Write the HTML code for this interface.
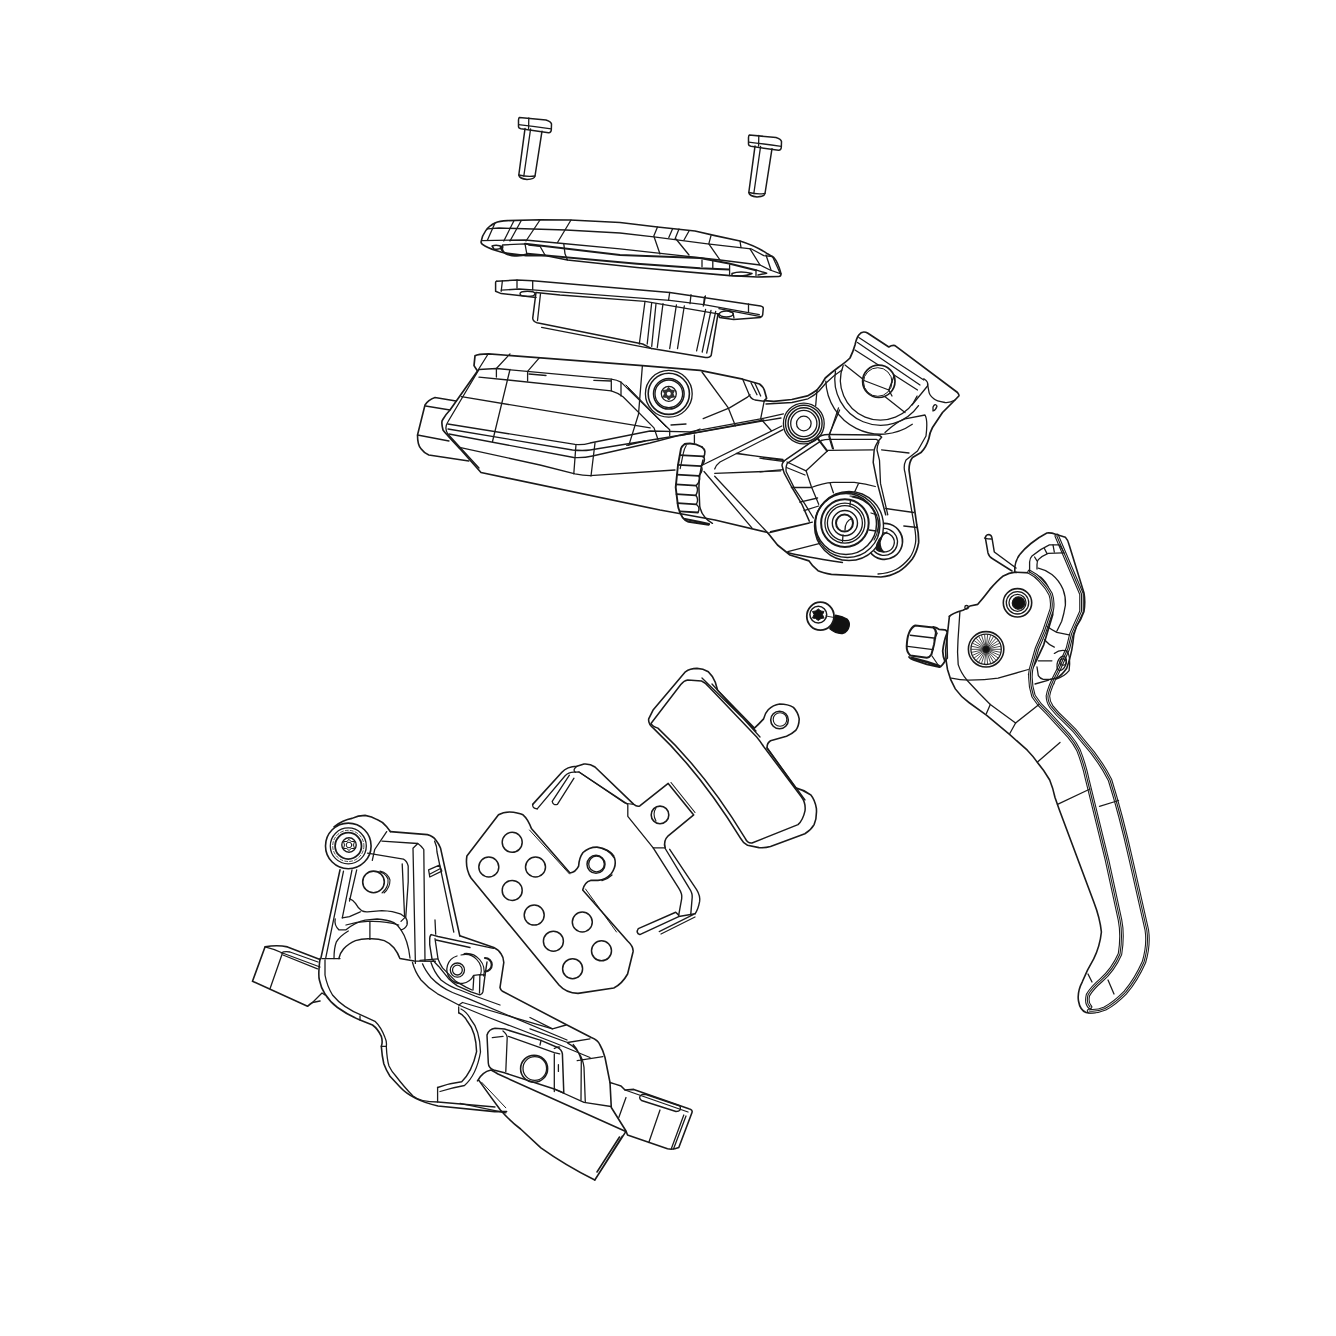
<!DOCTYPE html>
<html><head><meta charset="utf-8"><style>
html,body{margin:0;padding:0;background:#fff;}
svg{display:block;}
</style></head><body>
<svg width="1336" height="1336" viewBox="0 0 1336 1336">
<rect width="1336" height="1336" fill="#fff"/>
<g fill="none" stroke="#1a1a1a" stroke-width="1.3" stroke-linejoin="round" stroke-linecap="round">
<g id="screw">
<path d="M519.4,117.5 L546,120 Q551,121.5 551.5,124 L551.3,130 Q551,133 548.5,132.8 L521,128.8 Q518.5,128.3 518.5,126.5 L518.5,120 Q518.7,117.8 519.4,117.5 Z" stroke-width="1.5"/>
<path d="M518.6,124.6 Q535,126.5 551.2,128.8"/>
<path d="M528.8,117.8 L528.6,128.5"/>
<path d="M525,128.6 L518.8,175 Q519.5,178.8 527,179.4 Q534.5,179.2 535,176 L542,131.2" stroke-width="1.5"/>
<path d="M530.6,128.9 L523.8,176.2"/>
<path d="M518.9,175 Q527,177 535,176"/>
</g>
<use href="#screw" transform="translate(230,17.5)"/>

<!-- cover -->
<path d="M481,242 C482,234 488,226 495,223 C499,221 503,220.7 507.5,220.6 L540,219.8 L570,220 L620,222.5 L657.5,227 L695,231 L715,235.6 L740,241 Q756,246 767.5,253.8 L773.8,257.5 Q778,262 781,273.8 Q781,276.5 778.8,276.5 L757.5,277 L730,275.6 L637,267.5 L567.5,260 L545,255.5 L526,255.6 L502.5,252.5 Q490,249 485,246 Q481,244 481,242 Z" stroke-width="1.6"/>
<path d="M482,240.6 L525,240 L557.5,243 L620,248.8 L720,260 L760,265 L770,270 L781,273.8"/>
<path d="M487.5,228.8 L499,228 L566,230 L620,233 L653.8,236.9 L707.5,243.8 L751,248.8 L763.8,255.6 L772.5,256.5"/>
<path d="M495,223 L487.5,240 M513.8,221 L503.8,241 M521,221 L510,241 M540,220 L526,241 M571,220 L557.5,242.5"/>
<path d="M657.5,227 L653.8,236 L660,254 M672.5,229 L668.8,237.5 M679,229 L675,239 M689,231 L684,240 M676,239 L689,255 M711,235.6 L708.8,243.8 L720,260 M740,241 L741,247.5 M750,248.8 L760,265 M766,255 L771,270 M772.5,256.5 L780,273"/>
<path d="M525,243.8 L620,255 L700,258.1 L729,263.5 L756,270.2" stroke-width="2"/>
<path d="M527.5,253.8 L637,263.8 L700,268.2 L729,269.5" stroke-width="1.9"/>
<path d="M729.6,264.8 L729.6,275.6 M756,270.2 L756,275.6 M702,260.1 L702,266.8 M712.8,261.5 L712.8,268.2"/>
<path d="M732,273.5 Q740,270.5 752,273.5 Q745,277 732,275.5 Z" stroke-width="1.5"/>
<path d="M756.6,270.2 L766.7,273.2 L758,275" stroke-width="1.4"/>
<path d="M492,246 Q497,244 503,247 Q500,250 494,249 Z" stroke-width="1.4"/>
<path d="M502.5,245 L525,243.8 L527,255 M502.5,245 Q502,250 503.8,252.5 Q514,256 527,255" stroke-width="1.3"/>
<path d="M528.8,245 L540,246.3 L545,255 M563.8,243.8 L565,253.8 L567.5,260"/>
<path d="M500.5,247 Q502,254 512,255.5 Q521,256.5 527,254" stroke-width="1.8"/>

<!-- bladder -->
<path d="M496.7,281.2 L517,280 L532.7,280.8 L669.7,292.5 L760.6,305.9 Q763,306.5 763.3,308 L762.7,314.7 Q762,317 760.6,317.4 L733.7,319.4 L719.5,317.4 L718,313.8" stroke-width="1.5"/>
<path d="M496.7,281.2 Q495.6,281.8 495.6,282.4 L495.6,291.3 L501.2,293.6 L521.4,295.8 L536,297.5" stroke-width="1.5"/>
<path d="M501.2,290.2 L519.2,289 L532.7,289.8 L669.7,300.3 L704,304.6 L759.3,314.7"/>
<path d="M718.9,308.6 L760.6,316.7"/>
<path d="M517,280 L517,288 M532.7,280.8 L532.7,289.8 M502.4,280.8 L501.2,291.3 M669.7,292.5 L668.5,300.3 M691,294.7 L690,303.7 M704.5,297 L703.3,306 M748.5,303.9 L748.5,312 M705.4,295.8 L704,304.6"/>
<path d="M536,292.5 L532.7,318.3 Q533,321.5 537,322.8 L642.7,344 L651.7,348.6 L705.6,357.6 Q710,357.5 711.2,355.3 L718,313.8" stroke-width="1.5"/>
<path d="M540.5,293.6 L537.5,320.5 M541.6,327.3 L651.7,348.6"/>
<path d="M536,292.5 L560,295 L645,301.4 L718,313.8"/>
<path d="M645,301.4 L639.3,344 M651.7,302.6 L647.2,344 M656,303.7 L651.7,346.4 M663,303.7 L657.3,347.5 M676.4,304.8 L669.7,348.6 M684.3,306 L677.5,348.6 M705.6,309.3 L696.6,350.8 M711,310.4 L702.2,352 M715.7,311.5 L706.7,353"/>
<ellipse cx="527.5" cy="293.8" rx="7.5" ry="2.6" stroke-width="1.4"/>
<ellipse cx="726.3" cy="314" rx="7" ry="3" stroke-width="1.4"/>
<path d="M729,311.5 L733,313 L734,318"/>

<!-- master cylinder body -->
<path d="M474,365.6 L475,355.8 Q478,354 488.7,353.9 L642.4,365.6 L700,370.4 L742.7,379.2 L759.5,384 Q763.5,387 764.3,390 L766.6,398.3 L764.3,400.7 L773.8,401.3 L791.8,399.5 L807.4,395.9 Q813,393 817,390 L821.7,384 L825.3,378 Q832,372 838.5,367.2 Q846,362 850,358 Q853,352 855,345 Q856.5,338 858.8,335 Q861,332 863.8,332 Q866,332 867.5,333 L888.8,347 Q892,345 895,345.6 L957.5,392.5 Q959.5,395 958.8,396 L955,400 L942.5,412.5 L932.5,427.5 Q929.5,433 928.8,438.8 Q926,448 921,452.5 L912.5,457.5 Q909,462 909,470 L916.8,525 Q919,535 918.6,542.9 Q917,552 912.3,559 Q906,567 898.8,571.6 Q890,576.5 880.9,577 L831.4,574.3 Q823,573 818,570.7 Q812,566 809,560.9 L790,555 L777.5,545 L767.5,532.5 L715,520 L660,510 L481,472.5 L460,448.8 Q446,434 443,430 Q441,422 442.5,420 Q446,414 450,410 L477.5,371 Z" stroke-width="1.7"/>
<!-- plug -->
<path d="M456,401 L435,397.5 Q428,400 425,405 L417.5,435 Q417.5,445 421,448.8 Q424,453 428.8,455 L468.8,461" stroke-width="1.6"/>
<path d="M425.6,406 L450,410 M417.5,435 L449,441"/>
<!-- left front double edge -->
<path d="M487.5,355 L477.5,371 M479,369.5 L447.8,422 Q444,428 447.8,434 L479,468"/>
<!-- recess -->
<path d="M479,369.5 L496.4,368.5 L611.3,379.2 Q617,380 621,382.1 L669.7,429.8 L669.7,435.6"/>
<path d="M479,377.2 L508,380 L611.3,390.9 Q618,393 623,396.7 L654,427.9 L658,439.5"/>
<path d="M626,385 L664,424 M628,388 L666,427" stroke-width="1"/>
<path d="M510,353.9 L496.4,368.5 L496.4,377 M539.3,357.8 L527.6,371.4 L527.6,381.1 M510,369.5 L492.5,441.5"/>
<path d="M593.8,380.3 L611.3,381 M611.3,379.2 L611.3,390.9 M621,382.1 L621,396 M529,374 L546,375.5 M671,425 L686,424"/>
<path d="M461.4,396.7 L650.2,427.9"/>
<path d="M642.4,365.6 L638.5,414.2 L628.8,445.4"/>
<!-- lower face lines -->
<path d="M447.8,424 L575,444.4 Q583,445 590,443 L650,431 L690,431.9 L761.9,418.7 L783.4,413.9"/>
<path d="M448,429 L572.5,450 Q583,451 590,450 L700,432 L761.9,421.1 L781,418"/>
<path d="M449,434 L573.8,457.5 Q584,458 592.5,456 L650,443 L693.6,431.7 L700,429"/>
<path d="M459.5,447.3 L540,465 L575,473.8 Q583,475.5 590,475.6 L675,470"/>
<path d="M576,444.4 L573.8,473.8 M595,443 L591,476 M626.8,445.4 L645,441"/>
<!-- knurled wheel -->
<path d="M694.4,435 L694.4,443.2"/>
<path d="M701.9,447 Q696,443.5 690,443.5 Q686,443.5 684.7,444 Q682,446 681,448.5 L678,465 L675.7,487.4 L678,506.1 Q679.5,513 682.5,517.3 Q685,520.5 688.4,521.8 L708.7,524.8" stroke-width="1.9"/>
<path d="M686.2,445.5 Q684,449 683.2,453.7 L680.2,468.7" stroke-width="1.2"/>
<path d="M701.9,447 Q704.5,449 704.9,451.5 Q705,455 703.4,457.5" stroke-width="1.6"/>
<path d="M679.8,455.2 L703.5,456.4 M678.0,464.9 L701.1,466.1 M677.0,474.7 L698.6,475.9 M676.0,484.4 L696.2,485.6 M676.5,494.1 L695.8,495.3 M677.6,503.1 L696.3,504.3 M680.1,511.3 L697.9,512.5 " stroke-width="1.8"/>
<path d="M703.5,456.4 Q706.3,460.6 701.1,466.1 M701.1,466.1 Q703.9,470.4 698.6,475.9 M698.6,475.9 Q701.4,480.1 696.2,485.6 M696.2,485.6 Q699.0,489.9 695.8,495.3 M695.8,495.3 Q699.1,499.2 696.3,504.3 M696.3,504.3 Q700.7,507.8 697.9,512.5 " stroke-width="1.4"/>
<path d="M703,460 Q699,475 698.9,487.4 L699.7,506.1 Q701,513 704.9,517.3 Q708,521 712.4,523.3" stroke-width="1.5"/>
<path d="M685,519 L700,522 L709,524" stroke-width="2.2"/>
<!-- tab + valley -->
<path d="M742.7,379.2 L748.7,393.5 Q750,398.5 755,400 L764.3,401.3 M751,382.8 L757,394.7 M754.7,382.8 L760.7,396"/>
<path d="M702,372 L728.3,407.9 L735.5,425.9 M703.2,418.7 L729.5,407.9 L747.5,397.1 L750,394.7"/>
<path d="M764.3,400.7 L760.7,418.7 L771.4,430.7"/>
<path d="M766,404 L792,402.5 L808,398.8 Q815,395 819,391 L826,383 Q834,375 842,370"/>
<path d="M817,390 L815.7,405.5 M838.5,407.9 L828.9,436.6 L832.5,448.6"/>
<!-- long diagonal double -->
<path d="M701.6,465.5 L781.8,426 M714.7,469 Q716,465 720,462 L783,429.6"/>
<path d="M680,435.6 L763.8,420 M714.7,473.3 L780.6,470.9 M737.9,453.4 L784.6,460.6 M736.3,453.5 L783,459.5"/>
<path d="M704,471.5 L751.9,527.8 M714.7,476.3 L768.6,533.8"/>
<path d="M769.8,532.6 L809.3,523 M787.8,551.7 L820,543.4 M770.5,531.6 L812.4,522.1"/>
<path d="M787.5,552.5 Q800,556 842.5,562.5"/>
<!-- frame around lower bushing -->
<path d="M820.8,435.7 Q825,434.5 829.2,434.6 L877.4,435.1 Q881,436 881.6,437.2 Q876,443 874.2,449.8 L873.2,462.4 L877.4,483.4 L885.7,514.8" stroke-width="1.5"/>
<path d="M821.8,440.4 Q825,439.3 829.2,439.3 L876.3,439.3 Q879,440.5 879,442 Q877,446 877,450 L879.5,460.3 L880.5,483.4 L887.8,514.8"/>
<path d="M820.8,435.7 L786.2,459.3 Q782,462 782,465.5 L784.1,472.9 L791.4,486.5 L801.9,504.3 L809.3,521.1" stroke-width="1.5"/>
<path d="M821.8,440.4 L787.2,463.4 Q785.5,467 786.2,471.8 L794.6,488.6 L805.1,504.3 L813.4,518"/>
<path d="M806.1,470.8 L828.1,450.3 L873.2,449.8 M806.1,470.8 L811.3,486.5 L818.7,504.3"/>
<path d="M787,462 L806.1,470.8 M786.5,467.5 L805,475"/>
<path d="M817.6,438.3 L827.1,450.9" stroke-width="2"/>
<path d="M829.2,434.6 L833.4,448.8 M829.2,434.6 L839.6,410"/>
<path d="M811.3,487.5 Q822,483 833.4,482.3 L854.3,482.3 Q866,483.5 875.3,486.5 M830.2,483.4 L833.4,492.8 M858.5,483.4 L854.3,492.8"/>
<path d="M760,458.2 L783,461.3 M760,471.8 L783,469.7 M791.4,487.5 L811.3,487.5 M799.8,502.2 L817.6,498 M804,510.6 L818.7,506"/>
<path d="M881.6,449.8 L909,453 M885.7,508.5 L913.8,512.5 M903.8,526 L917.5,527.5"/>
<!-- right outline inner line -->
<path d="M885,432.5 Q896,422 905,418.8 L925,415 Q928,420 926,436 L917.5,451 L906,460 Q903,466 905,472.5 L914,524 Q916.5,537 915.5,543 Q914,552 909.5,558 Q903,566 896,569.5 Q888,573.5 878,574"/>
<!-- horn -->
<path d="M858.8,337.5 L923.8,380 M857.5,342.5 L920,385 M855,350 L917.5,390 M845,365 L905,412.5"/>
<path d="M923.8,378.8 Q929,382 927.5,386 L921,394 L912,405"/>
<!-- tab lower -->
<path d="M955,400 Q950,403 945,402.5 Q936,401 933.8,398.8 Q929,395 928.8,391 L927.5,383.8"/>
<path d="M933,407 Q935,403 937,406 Q936,410 933,411 Z"/>
<!-- arcs around pin -->
<path d="M843.2,365.5 A40,40 0 0 0 917.1,396.1"/>
<path d="M835.5,371.2 A46,46 0 0 0 918.5,405.6"/>
<path d="M825.8,381.1 A55,55 0 0 0 912.3,424.3"/>
<!-- pin -->
<circle cx="878.8" cy="381.3" r="16.2" stroke-width="1.7" fill="#fff"/>
<circle cx="877.8" cy="382" r="14.3" stroke-width="1"/>
<path d="M864,380.5 L888.8,390 L894,376 M888.8,390 L892,396"/>
<!-- screw on body -->
<circle cx="668.8" cy="393.8" r="23.4"/>
<circle cx="668.8" cy="393.8" r="20.6" stroke-width="1.6"/>
<circle cx="668.8" cy="393.8" r="15.3" stroke-width="1.5"/>
<circle cx="668.8" cy="393.8" r="13.8"/>
<circle cx="668.8" cy="393.8" r="7.5"/>
<path d="M668.8,387.5 L671,390 L674.5,390.5 L673,393.8 L674.5,397 L671,397.5 L668.8,400 L666.5,397.5 L663,397 L664.5,393.8 L663,390.5 L666.5,390 Z" fill="#333" stroke-width="0.8"/><circle cx="668.8" cy="393.8" r="2" fill="#fff" stroke="none"/>
<!-- small bushing mid -->
<circle cx="803.8" cy="423.5" r="20.4"/>
<circle cx="803.8" cy="423.5" r="18.3" stroke-width="1.4"/>
<circle cx="803.8" cy="423.5" r="15.7" stroke-width="1.5"/>
<circle cx="803.8" cy="423.5" r="13.1"/>
<circle cx="803.8" cy="423.5" r="7.3"/>
<!-- small right bushing -->
<path d="M877,525 A18,18 0 1 1 870,552" stroke-width="1.7"/>
<path d="M880,529 A13.5,13.5 0 1 1 874,551" stroke-width="1.3"/>
<path d="M883,533 A9.5,9.5 0 1 1 878,549" />
<!-- big bushing -->
<circle cx="849" cy="526" r="34.5" stroke-width="1.4" fill="#fff"/>
<circle cx="847.5" cy="525" r="32.5"/>
<circle cx="846" cy="524" r="30.5" stroke-width="1.5"/>
<path d="M850,496 A29,29 0 0 1 874,540 M852,497 A31,31 0 0 1 878,536" stroke-width="1.1"/>
<circle cx="844.9" cy="523.1" r="23.8" stroke-width="2"/>
<circle cx="844.9" cy="523.1" r="20" stroke-width="1.3"/>
<circle cx="844.9" cy="523.1" r="17.5" stroke-width="1.3"/>
<circle cx="844.9" cy="523.1" r="12.6" stroke-width="1.4"/>
<circle cx="844.5" cy="523.1" r="8.5" stroke-width="2"/>
<path d="M845,530 Q845,521 852,518.5" />
<path d="M850,505.5 L850.5,500 M843,535 L842.5,541.5 M871,513 L877,515 M869,530 L876,531"/>
<path d="M887,532 Q881,535 880,542 Q880,549 884,552 Q878,552 876,549 Q877,538 887,532 Z" fill="#1a1a1a"/>

<!-- lever -->
<!-- plate + blade left outline -->
<path d="M949.4,616.3 Q952,613.5 962.9,610.3 Q968,608 970,606 L977.8,604.3 Q984,597 989.8,589.4 Q997,581 1003.3,575.9 Q1009,573 1015.3,572.2 L1030.2,572.9 Q1036,574 1040.7,577.4 Q1046,582 1048.2,587.9 Q1052,594 1052.7,601.3 L1052.7,614.8 L1043.7,644.8 L1034.7,664.2 L1028.7,674.7" stroke-width="1.7"/>
<path d="M949.4,616.3 L947.9,629.8 L945.6,650 Q945.5,660 947.5,669.5 Q950,680 955.3,688.9 Q961,697 968.9,702.5 L986.4,715.2 L1009.8,734.7 L1027.3,750.2 Q1033,756 1037,761.9 Q1044,770 1049.7,780 Q1053,788 1055,797.5 L1059.4,810 L1093.7,901.7 Q1100,918 1101.4,932 Q1100,946 1093.7,958.9 Q1087,970 1082.3,981.8 Q1077,992 1078.5,1001 Q1080,1010 1086,1012.5 Q1093,1014 1100,1011" stroke-width="1.6"/>
<path d="M1054.2,679.2 L1053.7,684"/>
<!-- inner left line -->
<path d="M959.9,611.8 L958,640 Q957,652 958.2,664.6 Q961,673 967,680.2 L978.7,692.8 L990.3,704.5 L1015.6,723"/>
<!-- plate bottom curve -->
<path d="M951.4,678.2 Q960,680 968.9,680.2 Q985,680 998.1,678.2 L1028.3,669.5"/>
<!-- right inner double line of plate -->
<path d="M1029.6,572 Q1036,575 1040.7,580.6 Q1047,587 1050.6,594.1 Q1053,601 1051.9,609 L1044.4,631.2 L1037,648.5 L1031,669.4 Q1029,682 1033.5,696 Q1039,705 1047,712 L1069.4,736.4 Q1075,743 1078.4,750 Q1084,764 1087.4,780 L1107,860 L1120,920 Q1123,935 1120,954 Q1113,970 1101.2,980.2 Q1092,988 1088,995 Q1086,1003 1090,1007" stroke-width="4.6"/>
<path d="M1029.6,572 Q1036,575 1040.7,580.6 Q1047,587 1050.6,594.1 Q1053,601 1051.9,609 L1044.4,631.2 L1037,648.5 L1031,669.4 Q1029,682 1033.5,696 Q1039,705 1047,712 L1069.4,736.4 Q1075,743 1078.4,750 Q1084,764 1087.4,780 L1107,860 L1120,920 Q1123,935 1120,954 Q1113,970 1101.2,980.2 Q1092,988 1088,995 Q1086,1003 1090,1007" stroke="#fff" stroke-width="2.4"/>
<path d="M1029.6,572 Q1036,575 1040.7,580.6 Q1047,587 1050.6,594.1 Q1053,601 1051.9,609 L1044.4,631.2 L1037,648.5 L1031,669.4 Q1029,682 1033.5,696 Q1039,705 1047,712 L1069.4,736.4 Q1075,743 1078.4,750 Q1084,764 1087.4,780 L1107,860 L1120,920 Q1123,935 1120,954 Q1113,970 1101.2,980.2 Q1092,988 1088,995 Q1086,1003 1090,1007" stroke-width="1.1"/>
<path d="M1056.8,536 L1081.5,594 L1081.5,611.4 L1071.6,633.6 L1067.9,648.5 L1058,670.7 Q1049,688 1047.9,696 Q1048,702 1051.4,706.7 Q1057,714 1065,721 Q1075,730 1083,741 Q1100,760 1110,780 Q1121,815 1131,860 L1146.8,930 Q1149,945 1144,962 Q1136,980 1125.5,992.3 Q1115,1003 1105,1008.5 Q1097,1012 1089,1011" stroke-width="4.6"/>
<path d="M1056.8,536 L1081.5,594 L1081.5,611.4 L1071.6,633.6 L1067.9,648.5 L1058,670.7 Q1049,688 1047.9,696 Q1048,702 1051.4,706.7 Q1057,714 1065,721 Q1075,730 1083,741 Q1100,760 1110,780 Q1121,815 1131,860 L1146.8,930 Q1149,945 1144,962 Q1136,980 1125.5,992.3 Q1115,1003 1105,1008.5 Q1097,1012 1089,1011" stroke="#fff" stroke-width="2.4"/>
<path d="M1056.8,536 L1081.5,594 L1081.5,611.4 L1071.6,633.6 L1067.9,648.5 L1058,670.7 Q1049,688 1047.9,696 Q1048,702 1051.4,706.7 Q1057,714 1065,721 Q1075,730 1083,741 Q1100,760 1110,780 Q1121,815 1131,860 L1146.8,930 Q1149,945 1144,962 Q1136,980 1125.5,992.3 Q1115,1003 1105,1008.5 Q1097,1012 1089,1011" stroke-width="1.1"/>
<!-- cross lines -->
<path d="M990.3,704.5 L986.4,713.5 M1015.6,723 L1009.8,733.5 M1015.6,723 L1039,704.5 M1037.5,762 L1060,742.4 M1057.5,804.3 L1090,789 M1099.5,806.3 L1118.5,800.5 M1035,684 L1048.7,680.2"/>
<path d="M1088,974 L1092,982 M1108,980 L1114,994"/>
<!-- hook -->
<path d="M1014.8,572 L1014.8,567 Q1016,559 1019.8,554.6 Q1024,549 1030.9,543.5 Q1039,537 1046.9,533 Q1051,532.5 1055.6,534.3 L1065.4,537.3 Q1068,540 1069.1,544.8 L1084,592.9 Q1085.5,602 1084,611.4 Q1081,620 1076.5,626.2 Q1073,635 1072.8,643.5 Q1072,650 1070.4,655.9 Q1069,662 1066.7,668.2 Q1062,675 1056.8,678.1 L1050.6,679.3" stroke-width="1.6"/>
<path d="M1029.6,572 L1029.6,562 Q1030,558 1032,555.9 Q1040,549 1049.4,544.8 L1059.3,544.8 Q1062,548 1064.2,553.4"/>
<path d="M1037,569 L1037,564.5 Q1037,561 1038.3,559.6 Q1042,556 1048.1,553.4 L1063,552.8"/>
<path d="M1034.6,557 L1037,560.8 M1044.4,548.5 L1046.9,553.4 M1053,544.8 L1054.3,552"/>
<path d="M1038.3,568.2 Q1046,570 1051.9,574.4 Q1059,580 1063,589.2 Q1066,597 1065.4,605.2 Q1064,614 1061.7,621.3 L1056.8,631.2"/>
<path d="M1038.3,660.8 L1051.9,660.8 M1037,667 L1038.3,675.6 Q1040,678.5 1043.2,679.3 L1050.6,679.3"/>
<path d="M1044.4,639.8 Q1049,645 1054.3,647.2 M1046.9,626.2 Q1052,630 1056.8,632.4 L1069.1,634.9"/>
<ellipse cx="1061.7" cy="663.3" rx="4.3" ry="7.4" transform="rotate(20 1061.7 663.3)"/>
<circle cx="1063" cy="662" r="3.2"/>
<path d="M1054.3,653.4 Q1060,649 1066.7,650.9 Q1071,655 1069.1,670.7 Q1064,677 1056,679"/>
<!-- pivot hole -->
<circle cx="1017.5" cy="602.8" r="14.2" stroke-width="1.6"/>
<circle cx="1017.5" cy="602.8" r="11.2"/>
<circle cx="1017.5" cy="602.8" r="8.5"/>
<circle cx="1018.5" cy="603" r="6.2" fill="#111"/>
<!-- starburst -->
<circle cx="986.1" cy="649.3" r="17.7" stroke-width="1.6"/>
<circle cx="986.1" cy="649.3" r="15.2"/>
<path stroke-width="0.8" d="M988.1,649.3 L1000.6,649.3 M988.1,649.7 L1000.3,652.3 M987.9,650.1 L999.3,655.2 M987.7,650.5 L997.8,657.8 M987.4,650.8 L995.8,660.1 M987.1,651.0 L993.4,661.9 M986.7,651.2 L990.6,663.1 M986.3,651.3 L987.6,663.7 M985.9,651.3 L984.6,663.7 M985.5,651.2 L981.6,663.1 M985.1,651.0 L978.9,661.9 M984.8,650.8 L976.4,660.1 M984.5,650.5 L974.4,657.8 M984.3,650.1 L972.9,655.2 M984.1,649.7 L971.9,652.3 M984.1,649.3 L971.6,649.3 M984.1,648.9 L971.9,646.3 M984.3,648.5 L972.9,643.4 M984.5,648.1 L974.4,640.8 M984.8,647.8 L976.4,638.5 M985.1,647.6 L978.9,636.7 M985.5,647.4 L981.6,635.5 M985.9,647.3 L984.6,634.9 M986.3,647.3 L987.6,634.9 M986.7,647.4 L990.6,635.5 M987.1,647.6 L993.4,636.7 M987.4,647.8 L995.8,638.5 M987.7,648.1 L997.8,640.8 M987.9,648.5 L999.3,643.4 M988.1,648.9 L1000.3,646.3"/><circle cx="986.1" cy="649.3" r="3" fill="#111"/>
<!-- knob -->
<path d="M915.3,625.5 L933.2,627.5 Q936.5,630 935.9,633 L934.1,644.2 L931.4,654.5 Q929.5,657.5 926.9,657.7 L910.3,655.4 Q906.5,652 906.7,646.4 Q907,638 909,633 Q911.5,627 915.3,625.5 Z" stroke-width="2"/>
<path d="M910.3,635.2 L935.5,638.3 M907.6,646.4 L933.2,649.6" stroke-width="1.4"/>
<path d="M933.2,627 Q937,627.5 939,629.4 L944.9,629.8 Q947.5,631 947.1,633 Q944,640 942.7,651 Q943,657 944.9,661.2 Q942,666 939.5,667.1 L926.9,664.4 L913.5,659.9 Q910,658.5 909,657" stroke-width="1.8"/>
<path d="M937.3,633 L934,640 M932,656 L939.5,667" stroke-width="1.2"/>
<path d="M912,658 L927,662 L939,666" stroke-width="2.4"/>
<path d="M944.9,661.2 L947.5,658 L947,636"/>
<!-- spring wire -->
<path d="M985.3,537.5 Q986,534.5 989,534.5 Q991.5,535 992,538 L994.3,552 L1016,568 M985.3,537.5 L988,553 Q989,557 993,559 L1012,571" stroke-width="1.5"/>
<path d="M984.5,538 Q988,539 991.5,539"/>
<circle cx="966.6" cy="607.3" r="1.8"/>

<!-- small screw -->
<path d="M835.6,615.1 Q842,616 847,619 Q850,622 849.2,626 Q848,632 842.4,633.5 Q836,634 829.8,628.8 Z" fill="#111" stroke="#111"/>
<ellipse cx="820.4" cy="616.2" rx="13.6" ry="14" fill="#fff" stroke-width="1.8"/>
<circle cx="818.3" cy="614.6" r="8.4" stroke-width="1.5"/>
<path d="M818.3,609 L821,611 L824,611.5 L822.5,614.6 L824,618 L821,618.5 L818.3,620.5 L815.5,618.5 L812.5,618 L814,614.6 L812.5,611.5 L815.5,611 Z" fill="#111" stroke-width="1"/>
<path d="M826,616 L834,617.5" stroke-width="0.9"/>

<!-- pad with friction (right) -->
<path d="M648.7,718.9 L653.3,709.7 L685.4,671.8 Q690,668.5 697,668.4 Q703,668.5 708.4,671.8 Q713,676 715.3,682.2 L717.6,690.2 L754.4,728.1 Q759,724 763.6,718.9 Q765,713 768.2,709.7 Q773,705 779.7,704 Q788,704 793.4,707.4 Q798,712 799.2,718.9 Q799,726 795.7,730.4 Q792,734 786.5,736.2 L770.5,740.8 Q767,743 767,747.7 L795.7,787.9 Q804,790 810.7,794.8 Q815,800 816.4,808.5 Q817,818 814.1,824.6 Q811,830 804.9,833.8 L770.5,846.5 Q765,848 759,847.6 L747.5,845.3 Q743,843 740.6,838.4 Q700,772 653.3,728.1 Q648,724 648.7,718.9 Z" stroke-width="1.6"/>
<path d="M651,723.5 L680.8,684.5 Q684,680.5 687.7,679.9 L701.5,681 Q706,683 709,687 L756.7,737 Q760,741 763.6,746.5 L801.5,797 Q806,803 805,810.8 Q803,820 798,824.6 L752,843 Q747.5,843.5 745.2,838.4 Q705,772 657.9,728.1 Q652,726 651,723.5" stroke-width="1.5"/>
<path d="M702,678 L756,731 M712,684 L760,737 M767,748 L805,800"/>
<circle cx="779.5" cy="720" r="8.8" stroke-width="1.6"/>
<circle cx="780" cy="719.5" r="6.8" stroke-width="1.1"/>

<!-- pad spring -->
<path d="M532.7,804.4 L561.9,772.2 Q567,766.5 576.9,766.2 L584,764 Q590,763.5 595,767 L633.8,804.4 Q637,807 639.8,805.9 L668.2,783.4 L693.7,814.9 L668.2,835.8 Q663,841 665.2,847.8" stroke-width="1.6"/>
<path d="M537.2,808.9 L564.9,776 Q569,771.5 575.4,772.2 L579,772 L627.8,804.4 L627.8,816.3 L653.2,847.8 L665.2,847.8"/>
<path d="M532.7,804.4 Q532,808.5 537.2,808.9"/>
<path d="M576.9,766.2 Q572,770 575.4,772.2"/>
<path d="M552.2,801.4 L569.4,775.2 M557.4,804.4 L574,778.2 M552.2,801.4 Q553,805.5 557.4,804.4"/>
<path d="M579,772 L624.8,803 Q628,804 633.8,804.4"/>
<path d="M671,782.5 L695,812.5" stroke-width="1.1"/>
<circle cx="660" cy="814.9" r="8.8" stroke-width="1.6"/>
<path d="M656,808 Q652,814 656,821" stroke-width="1.1"/>
<path d="M653.2,847.8 L678.7,888.2 Q682.5,894 681.7,898.7 L678.7,915.1 M665.2,848.5 L689.2,888.2 Q692.5,893 692.2,897.2 L690.7,915.1 M669.7,849.3 L696.6,889.7 Q700.5,896 699.6,901.7 Q698,910 695.1,913.7" stroke-width="1.4"/>
<path d="M695.1,913.7 L678.7,916.6 L639.8,934.6 Q635.5,933 638.3,928.6 L675.7,912.2 L678.7,915.1" stroke-width="1.5"/>
<path d="M659.2,931.6 L693.7,914.4 M661,934 L695,917" stroke-width="1.2"/>

<!-- pad with holes -->
<path d="M466.9,856 L498.5,814.8 Q503,812 509.5,812 Q518,812.5 523,814.8 Q528,819 531.4,828.6 L570,873 Q575.5,872.5 578.6,866.2 Q579,858 583,852.5 Q589,847 597,847.1 Q609,848.5 614.5,858 Q617,866 611.2,873.7 Q606,879.5 598,880.4 L590.6,880.4 Q584.5,882 582.7,890 L627.6,941 Q634,947 633,952 L627.6,974 Q622,984 613.8,988 L578,993.4 Q566,993 559,985 L471,878 Q465,868 466.9,856 Z" stroke-width="1.6"/>
<path d="M603,848.8 Q611,851 614,856 M612,875 Q608,879 602,880.5"/>
<path d="M585.5,889 L616.5,932 M529.5,830 L569.5,874" stroke-width="1"/>
<circle cx="596" cy="864.3" r="9" stroke-width="1.5"/>
<circle cx="596.5" cy="864" r="7.8"/>
<g stroke-width="1.5">
<circle cx="512.2" cy="842.3" r="10"/>
<circle cx="488.8" cy="867" r="10"/>
<circle cx="535.5" cy="867" r="10"/>
<circle cx="512.2" cy="890.4" r="10"/>
<circle cx="534.2" cy="915.1" r="10"/>
<circle cx="582.3" cy="922" r="10"/>
<circle cx="553.4" cy="941.2" r="10"/>
<circle cx="601.5" cy="950.8" r="10"/>
<circle cx="572.6" cy="968.7" r="10"/>
</g>

<!-- caliper -->
<!-- left mounting tab -->
<path d="M320,959.4 L287.5,946.9 Q277,944.5 265,946.9 L252.5,981.3 L307.5,1006.3 Q310,1004 312.5,1002.5 L320,1001" stroke-width="1.6"/>
<path d="M265,946.9 Q274,949 282.5,953 L320,967 M282.5,953 L270,988.8"/>
<path d="M281.3,953 Q284,951 290,952 L318,962 M283,955 L317.5,968.8"/>
<path d="M312.5,1002.5 L322,993 L325,995"/>
<!-- piston body double contour (left lobe) -->
<path d="M320,958.6 Q318,975 319.4,980 Q321,988 325,994 Q330,1002 337.5,1007.5 Q348,1015 360,1020 L372.5,1025 Q378,1029 381.3,1036.3 Q383,1042 381.3,1046.3 Q382,1056 383.8,1063.8 Q386,1070 390,1076.3 L400,1087 Q412,1100 438,1106 L494.6,1111.6 L506.6,1111.6" stroke-width="1.6"/>
<path d="M325,960 L325,975 Q327,986 332.5,995 Q343,1008 362.5,1015.6 L375,1021.3 Q381,1027 385,1037.5 Q387,1042 386.3,1046.3 Q387,1060 389,1066 Q392,1072 395,1075 Q405,1088 413,1096 Q420,1102 438,1102 L495,1107"/>
<path d="M360,1016 L360,1020 M381.3,1046.3 L386.3,1046.3"/>
<!-- right lobe -->
<path d="M437.6,1087.5 Q450,1083 461.7,1081.7 Q472,1072 476.6,1051.7 Q476,1032 467.7,1021.8 Q464,1015 458.7,1012.8" stroke-width="1.5"/>
<path d="M437.6,1087.5 L437.6,1102 M458.7,1006.8 L458.7,1012.8"/>
<path d="M440,1091.5 Q453,1087.5 464.5,1085.5 Q476.5,1075 480.5,1052 Q480,1030 470.5,1019 Q467,1012 461,1009"/>
<!-- banjo head -->
<path d="M334,826.8 Q343,820 352,818.4 Q358,815.5 365.1,815.4 Q372,816.5 377.1,819.6 Q383,822 386.7,826.8 L390.3,831.6" stroke-width="1.6"/>
<circle cx="348.3" cy="845.9" r="22.8" stroke-width="1.6"/>
<circle cx="348.3" cy="845.9" r="18"/>
<circle cx="348.3" cy="845.9" r="15.6" stroke-width="0.8" stroke-dasharray="3 2"/>
<circle cx="348.3" cy="845.9" r="13.2" stroke-width="1.8"/>
<circle cx="349" cy="845" r="7.2" stroke-width="1.4"/>
<path d="M349,839.5 L351.2,841.5 L354.5,841.5 L353.5,845 L354.5,848.5 L351.2,848.5 L349,850.5 L346.8,848.5 L343.5,848.5 L344.5,845 L343.5,841.5 L346.8,841.5 Z" stroke-width="1"/>
<circle cx="349" cy="845" r="2.8" stroke-width="1"/>
<!-- upper arm -->
<path d="M390.3,831.6 L427.4,834.6 Q433,836 435.8,840 Q439,844 440.6,848.3 L459.8,935.8" stroke-width="1.6"/>
<path d="M381.9,841.1 L417.8,843.5 Q421,845.5 423.8,849.5 L425,961" />
<path d="M386.7,831.6 L374.7,849.5 L372.3,860.3 M417.8,843.5 L413,848.3 L415.4,963.4"/>
<path d="M434.6,841.1 Q437,846 437,852 L453.8,932.2"/>
<path d="M428.6,869.9 L439.4,865.1 L441.8,871.1 L429.8,877 Z M430,874 L440.5,868.5"/>
<!-- left arm -->
<path d="M340,869.9 L320.8,958.6" stroke-width="1.6"/>
<path d="M343.5,871.1 L325.6,958.6 M352,869.9 L342.3,917.8 M356.7,869.9 L349.5,901"/>
<!-- pin -->
<circle cx="373.5" cy="881.9" r="10.8" stroke-width="1.6"/>
<path d="M377,871.5 Q385,872 388,879 Q389,887 382,893 M380,871 Q388,873 390,880 Q390,888 384,893" stroke-width="1.1"/>
<!-- pocket -->
<path d="M367.5,853.1 L403.4,859.1 Q407,861 408.2,866 L408.2,881.9 L405.8,916.6 L401,921.4"/>
<path d="M402.2,863.9 L404.6,916.6"/>
<path d="M349.5,898.7 Q353,900 355.5,903.4 Q358,908 361.5,910.6 Q364,912 367.5,911.8 L381.9,910.6 Q393,911 401,914.2 L405.8,917.8"/>
<path d="M342.3,917.8 L349.5,916.6 L360.3,911.8"/>
<!-- arch rims -->
<path d="M335.2,919 Q334,925 338.8,929.8 L346,929.8 Q356,922 365.1,920.2 L377.1,919 Q387,919.5 393.9,922.6 Q398,925 401,929.8 Q405,929 407,925 Q408,921 405.8,917.8"/>
<path d="M346,925 Q358,921 369.9,921.4 Q386,921 398.7,925"/>
<path d="M369.9,921.4 L369.9,939.4"/>
<path d="M338.8,958.6 Q340,953 343.5,949 Q349,943 355.5,940.6 Q362,938.5 369.9,938.8 Q378,938.5 384.3,940.6 Q390,943 393.9,947.8 Q398,953 399.9,958.6 L414.2,961 L435.3,961.2" stroke-width="1.5"/>
<path d="M322,958.6 L340,958.6"/>
<path d="M334,958.6 Q334,948 336.4,941.8 Q340,936 348.3,931"/>
<path d="M401,929.8 Q408,940 410,958"/>
<!-- right upper arm with pocket -->
<path d="M459.8,935.8 L493.8,947.5 Q499,950 501,953.8 Q503.5,957 503.8,962.5 L500,987.5 Q500.5,990 502.5,991.3 L567,1025 L591.3,1037.5 Q598,1040 600,1045 Q603,1050 605,1057.5 L610,1082.5" stroke-width="1.6"/>
<path d="M431.2,934.6 L438,936.5 L493.4,948.4 M436,940 L470,947.5"/>
<path d="M431.2,934.6 Q429.5,936 429.7,940 L429.7,944.7 L432,958.9 Q435,963 438.7,966.4 L448.4,978.4 Q452,982 457.4,985.9 L470.9,991.9 L479.9,994.9 Q482.5,994 482.9,991.9 L485.1,974.6 L487,962" stroke-width="1.4"/>
<path d="M435,938.7 L438,958.9 Q440,964 442.5,967.9 L455.9,981.4 L466.4,987.4 L472,990"/>
<!-- pin in right pocket -->
<circle cx="457.4" cy="970.1" r="4.9"/>
<circle cx="457.4" cy="970.1" r="7.1"/>
<path d="M457,956 A14,14 0 1 0 473.5,975.5"/>
<path d="M461,955 A16,16 0 0 1 480.5,975 M464,953.5 A18,18 0 0 1 483.5,976" stroke-width="1.1"/>
<path d="M485,958 A6.7,6.7 0 0 1 485,971.5" stroke-width="2.2"/>
<path d="M473.9,975.4 L479.9,974.6 L485.1,975 M473.9,975.4 L473,990 M479.9,974.6 L479.5,993"/>
<path d="M435,920 L435.7,934.2 M420,960.4 L438,958.9"/>
<!-- big sweep lines -->
<path d="M412.5,962.5 Q415,972 421,980 Q428,988 437.5,993.8 L458.8,1005 Q470,1010 490,1018 L555,1043 L590,1057.5"/>
<path d="M422.5,963.8 Q425,970 431,977.5 Q440,987 452.5,992.5 L468.8,998.8 L567,1040"/>
<path d="M431,962.5 Q434,972 441,980 Q450,987 460,990 L475,996 L500,1005"/>
<path d="M458.8,1005 L462.5,1002.5 L552.5,1028.8 L566,1025"/>
<path d="M530,1017.5 L552.5,1028.8 M530,1028.8 L567.5,1042.5 L590,1038.8"/>
<!-- rounded pocket around circle -->
<path d="M487,1035 Q489,1029 495,1028.3 L504.5,1029 L540.9,1040.4 L557,1047.2 Q562,1050 562.4,1053.9 L563.8,1093 L554.3,1089 L504.5,1072.8 L493.7,1070 Q488.5,1068 488.3,1063 Z" stroke-width="1.5"/>
<path d="M503,1031 Q507,1034 507.2,1037.7 L505.8,1071.4 M492.3,1037.7 L503,1036.4 M508.5,1036.4 L554.3,1052.6 L559.7,1053.9 M554.3,1048.5 Q558,1046.5 559.7,1047.2 M554.3,1053.9 L554.3,1091.6 M541,1040.5 L540,1045"/>
<path d="M558.4,1064.7 L558.4,1071.4"/>
<circle cx="534.1" cy="1068.7" r="13.5" stroke-width="1.6"/>
<circle cx="534.8" cy="1068.5" r="11.8"/>
<path d="M567.8,1043.1 Q575,1047 578.6,1052.6 Q583,1059 584,1067.4 L585.3,1102.4 M573.2,1044.5 Q579,1051 581.3,1060.6 L581,1100 M577.2,1060.6 L602.9,1056.6"/>
<path d="M554.3,1089 L584,1102.4 L611,1106.5"/>
<!-- right mounting tab -->
<path d="M610,1082.5 Q615,1084 621,1086 L625,1090 L633.8,1089.4 L688.8,1108.8 Q693,1110 692,1112.5 L678.8,1147.5 Q673,1150 667.5,1148.8 L627.5,1135 L626,1131 L611.3,1107.5 L610,1082.5" stroke-width="1.6"/>
<path d="M626,1097.5 L618.8,1117.5 M660,1110 L648.8,1142.5 M683.8,1115 L671.3,1148.8 M686,1116 L673.5,1149"/>
<path d="M625,1090 L688,1112"/>
<path d="M642,1094.5 Q637.5,1097 641.5,1100.5 L676,1111.5 Q682,1111.5 680,1106 L646,1094.5 Z" stroke-width="1.4"/>
<!-- hose fitting -->
<path d="M477.5,1080.9 Q482,1072 491,1070 Q495,1072 498,1074 L625.8,1131.6 M478.9,1080.4 Q490,1096 500.4,1110 Q510,1121 520.6,1129 L540.9,1147.8 Q565,1165 594.8,1180" stroke-width="1.6"/>
<path d="M481.6,1082.2 L505.8,1107.8" stroke-width="1"/>
<path d="M625.8,1131.6 L594.8,1180 M622.5,1136 L598,1175 M619.5,1137 L597,1172" stroke-width="1.6"/>
<path d="M460,1103.3 L505.8,1112.8"/>

</g>
</svg>
</body></html>
